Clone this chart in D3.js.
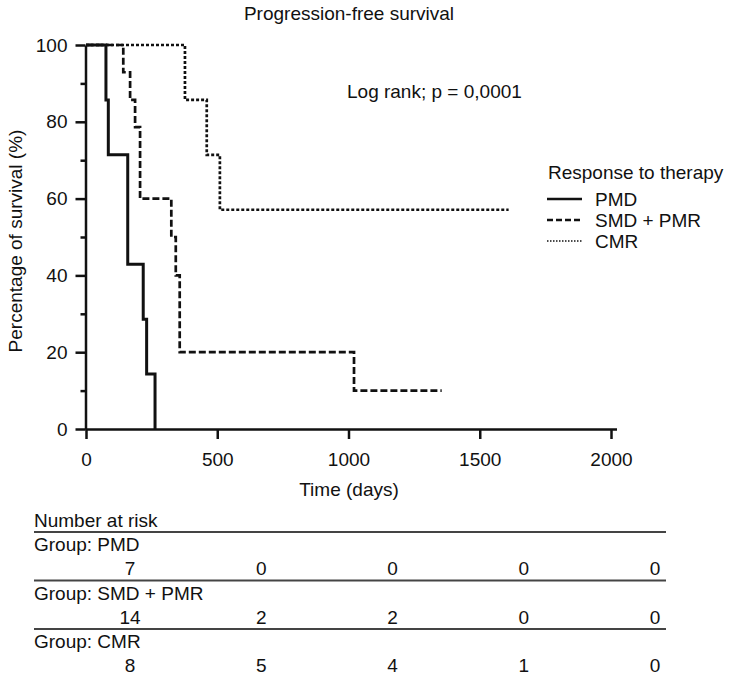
<!DOCTYPE html>
<html>
<head>
<meta charset="utf-8">
<script src="https://cdn.jsdelivr.net/npm/d3@7"></script>
<style>
  body { margin: 0; background: #fff; }
  text { font-family: "Liberation Sans", Arial, sans-serif; fill: #111; }
</style>
</head>
<body>
<div id="wrapper"></div>
<script>
// Kaplan-Meier steps (days, % surviving)
const pmdTimes = [0, 76, 85, 159, 218, 231, 263];
const pmdSurv = [100, 85.7, 71.4, 42.9, 28.6, 14.3, 0];
const smdTimes = [0, 142, 168, 187, 206, 325, 342, 357, 1021, 1355];
const smdSurv = [100, 92.9, 85.7, 78.6, 60, 50, 40, 20, 10, 10];
const cmrTimes = [0, 377, 460, 510, 1610];
const cmrSurv = [100, 85.7, 71.4, 57.1, 57.1];

const groupNames = ["PMD", "SMD + PMR", "CMR"];
const xTicks = [0, 500, 1000, 1500, 2000];
const yTicks = [0, 20, 40, 60, 80, 100];
const yMinorTicks = [10, 30, 50, 70, 90];

// number at risk
const riskTimes = [0, 500, 1000, 1500, 2000];
const riskPMD = [7, 0, 0, 0, 0];
const riskSMD = [14, 2, 2, 0, 0];
const riskCMR = [8, 5, 4, 1, 0];

function drawChart() {
    const dimension = {
        width: 729,
        height: 678,
        plot: { left: 86, right: 611, top: 45, bottom: 429 }
    };

    const svg = d3.select("#wrapper").append("svg")
        .attr("width", dimension.width)
        .attr("height", dimension.height);

    const xScale = d3.scaleLinear().domain([0, 2000])
        .range([dimension.plot.left, dimension.plot.right]);
    const yScale = d3.scaleLinear().domain([0, 100])
        .range([dimension.plot.bottom, dimension.plot.top]);

    // title
    svg.append("text")
        .attr("x", 349).attr("y", 20)
        .attr("text-anchor", "middle")
        .style("font-size", "19px")
        .text("Progression-free survival");

    // axes
    const yAxis = svg.append("g")
        .attr("transform", `translate(${dimension.plot.left - 0.5},0)`)
        .call(d3.axisLeft(yScale).tickValues(yTicks).tickSize(10)
            .tickSizeOuter(0).tickPadding(8).tickFormat(d3.format("d")));
    const yMinor = svg.append("g")
        .attr("transform", `translate(${dimension.plot.left - 0.5},0)`)
        .call(d3.axisLeft(yScale).tickValues(yMinorTicks).tickSize(5)
            .tickSizeOuter(0).tickFormat(""));
    yMinor.select(".domain").remove();

    const xAxis = svg.append("g")
        .attr("transform", `translate(0,${dimension.plot.bottom})`)
        .call(d3.axisBottom(xScale).tickValues(xTicks).tickSize(10)
            .tickSizeOuter(0).tickPadding(14).tickFormat(d3.format("d")));
    // axis line runs a little past the last tick
    xAxis.select(".domain").attr("d", `M${dimension.plot.left},0.5H${dimension.plot.right + 6}`);

    [yAxis, yMinor, xAxis].forEach(g => {
        g.selectAll("path, line").attr("stroke", "#111").attr("stroke-width", 2.5);
        g.selectAll("text").style("font-size", "19px").attr("fill", "#111");
    });

    svg.append("text")
        .attr("x", 349).attr("y", 496)
        .attr("text-anchor", "middle")
        .style("font-size", "19px")
        .text("Time (days)");

    svg.append("text")
        .attr("transform", "translate(22,241) rotate(-90)")
        .attr("text-anchor", "middle")
        .style("font-size", "19px")
        .text("Percentage of survival (%)");

    // curves
    const stepLine = d3.line()
        .x(d => xScale(d[0]))
        .y(d => yScale(d[1]))
        .curve(d3.curveStepAfter);

    const series = [
        { t: cmrTimes, s: cmrSurv, dash: "3,2" },
        { t: smdTimes, s: smdSurv, dash: "7,3" },
        { t: pmdTimes, s: pmdSurv, dash: null }
    ];
    series.forEach(sr => {
        svg.append("path")
            .attr("d", stepLine(d3.zip(sr.t, sr.s)))
            .attr("fill", "none")
            .attr("stroke", "#111")
            .attr("stroke-width", sr.dash ? 2.7 : 3)
            .attr("stroke-dasharray", sr.dash);
    });

    svg.append("text")
        .attr("x", 347).attr("y", 98)
        .style("font-size", "19px")
        .text("Log rank; p = 0,0001");

    // legend
    const legend = svg.append("g");
    legend.append("text")
        .attr("x", 548).attr("y", 179)
        .style("font-size", "19px")
        .text("Response to therapy");
    const legendDash = [null, "6,3", "1.5,1.5"];
    const legendWidth = [2.5, 2.5, 1.5];
    groupNames.forEach((name, i) => {
        const yb = 206 + i * 21;
        legend.append("line")
            .attr("x1", 547).attr("x2", 582)
            .attr("y1", yb - 7).attr("y2", yb - 7)
            .attr("stroke", "#111")
            .attr("stroke-width", legendWidth[i])
            .attr("stroke-dasharray", legendDash[i]);
        legend.append("text")
            .attr("x", 595).attr("y", yb)
            .style("font-size", "19px")
            .text(name);
    });

    // number at risk table
    const table = svg.append("g");
    table.append("text")
        .attr("x", 34).attr("y", 527)
        .style("font-size", "19px")
        .text("Number at risk");
    table.append("line")
        .attr("x1", 34).attr("x2", 666).attr("y1", 532).attr("y2", 532)
        .attr("stroke", "#444").attr("stroke-width", 1.8);

    const riskRows = [riskPMD, riskSMD, riskCMR];
    riskRows.forEach((row, i) => {
        const y0 = 551 + i * 48.5;
        table.append("text")
            .attr("x", 34).attr("y", y0)
            .style("font-size", "19px")
            .text("Group: " + groupNames[i]);
        table.selectAll(null)
            .data(d3.zip(riskTimes, row))
            .join("text")
            .attr("x", d => xScale(d[0]) + 44)
            .attr("y", y0 + 24)
            .attr("text-anchor", "middle")
            .style("font-size", "19px")
            .text(d => d[1]);
        if (i < riskRows.length - 1) {
            table.append("line")
                .attr("x1", 34).attr("x2", 666)
                .attr("y1", y0 + 29.5).attr("y2", y0 + 29.5)
                .attr("stroke", "#444").attr("stroke-width", 1.8);
        }
    });
}

drawChart();
</script>
</body>
</html>
